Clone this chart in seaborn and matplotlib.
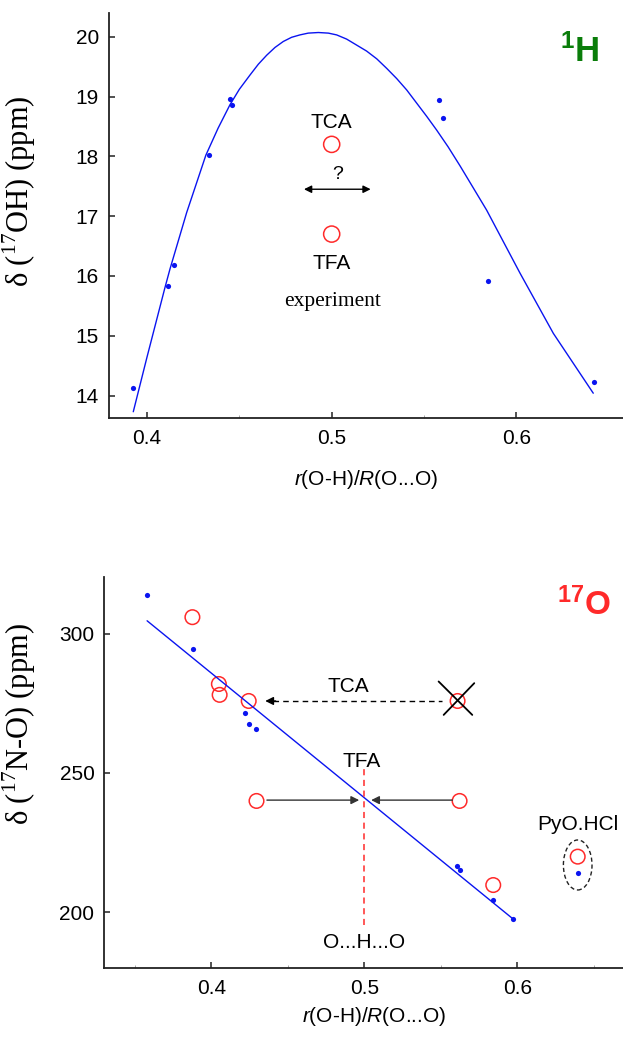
import numpy as np
import pandas as pd
import matplotlib
matplotlib.use("Agg")
import matplotlib.pyplot as plt
from matplotlib.patches import Ellipse
import seaborn as sns

# ---------------- data ----------------
# top panel (1H): calculated points
h_calc_x = [0.3925, 0.4114, 0.4144, 0.4338, 0.4447, 0.4458, 0.5583, 0.5605, 0.5845, 0.6418]
h_calc_y = [14.12, 15.83, 16.18, 18.03, 18.96, 18.86, 18.95, 18.64, 15.91, 14.23]
# top panel fitted curve
h_curve_x = [0.3926, 0.4000, 0.4097, 0.4125, 0.4215, 0.4319, 0.4385, 0.4449, 0.4500,
             0.4558, 0.4603, 0.4648, 0.4693, 0.4738, 0.4783, 0.4828, 0.4873, 0.4928,
             0.4982, 0.5027, 0.5081, 0.5135, 0.5189, 0.5244, 0.5298, 0.5352, 0.5406,
             0.5460, 0.5514, 0.5568, 0.5630, 0.5695, 0.5767, 0.5839, 0.6019, 0.6200,
             0.6416]
h_curve_y = [13.73, 14.64, 15.80, 16.12, 17.06, 18.02, 18.47, 18.86, 19.12,
             19.36, 19.54, 19.69, 19.82, 19.92, 19.99, 20.03, 20.06, 20.07,
             20.06, 20.03, 19.96, 19.86, 19.76, 19.63, 19.47, 19.30, 19.11,
             18.89, 18.67, 18.44, 18.16, 17.84, 17.47, 17.10, 16.05, 15.04,
             14.04]
# top panel experiment
h_exp_x = [0.500, 0.500]
h_exp_y = [18.20, 16.70]
h_exp_labels = ["TCA", "TFA"]

# bottom panel (17O): calculated points (last = PyO.HCl)
o_calc_x = [0.358, 0.3878, 0.422, 0.4246, 0.4293, 0.5604, 0.5622, 0.5842, 0.5972, 0.6394]
o_calc_y = [314.0, 294.4, 271.6, 267.7, 265.7, 216.5, 215.1, 204.3, 197.5, 214.1]
# bottom panel experimental points (open circles)
o_exp_x = [0.3876, 0.4049, 0.4054, 0.4244, 0.5609, 0.4295, 0.5622, 0.5842, 0.6394]
o_exp_y = [305.9, 281.9, 278.0, 275.8, 275.8, 239.9, 239.9, 209.7, 219.9]
# bottom panel linear fit
o_fit_x = [0.358, 0.5972]
o_fit_y = [304.6, 197.5]

# ---------------- style ----------------
sns.set_style("ticks")
plt.rcParams["font.family"] = ["Liberation Sans", "DejaVu Sans"]
plt.rcParams["mathtext.fontset"] = "custom"
plt.rcParams["mathtext.rm"] = "Liberation Serif"
plt.rcParams["mathtext.it"] = "Liberation Sans:italic"
plt.rcParams["mathtext.bf"] = "Liberation Sans:bold"
plt.rcParams["text.color"] = "black"
plt.rcParams["axes.labelcolor"] = "black"
plt.rcParams["xtick.color"] = "black"
plt.rcParams["ytick.color"] = "black"

BLUE = "#0a14f0"
RED = "#ff2a2a"
GREEN = "#0a7d0a"

fig = plt.figure(figsize=(6.23, 10.37), dpi=100)
ax1 = fig.add_axes([0.1742, 0.5966, 0.8258, 0.3905])
ax2 = fig.add_axes([0.1671, 0.06625, 0.8329, 0.3770])


def style_axis(ax):
    for s in ["top", "right"]:
        ax.spines[s].set_visible(False)
    for s in ["left", "bottom"]:
        ax.spines[s].set_linewidth(1.3)
        ax.spines[s].set_color("#222222")
    ax.tick_params(axis="both", which="major", direction="in", length=4, width=1.1,
                   labelsize=15, color="#222222", labelcolor="black")
    ax.tick_params(axis="y", which="major", pad=7)
    ax.tick_params(axis="x", which="major", pad=8)
    ax.tick_params(axis="both", which="minor", direction="in", length=2, width=0.6,
                   color="#999999")


# ---------------- top panel ----------------
sns.lineplot(x=h_curve_x, y=h_curve_y, sort=False, estimator=None, color=BLUE,
             lw=1.0, ax=ax1)
sns.scatterplot(x=h_calc_x, y=h_calc_y, color=BLUE, s=14, linewidth=0, ax=ax1)
sns.scatterplot(x=h_exp_x, y=h_exp_y, marker="o", s=135, ax=ax1)
ax1.collections[-1].set_facecolor("none")
ax1.collections[-1].set_edgecolor(RED)
ax1.collections[-1].set_linewidth(1.1)

ax1.set_xlim(0.3792, 0.6577)
ax1.set_ylim(13.62, 20.39)
ax1.set_xticks([0.4, 0.5, 0.6])
ax1.set_xticklabels(["0.4", "0.5", "0.6"])
ax1.set_xticks([0.45, 0.55], minor=True)
ax1.set_yticks([14, 15, 16, 17, 18, 19, 20])
style_axis(ax1)

ax1.text(0.500, 18.57, h_exp_labels[0], ha="center", va="center", fontsize=15)
ax1.text(0.500, 16.21, h_exp_labels[1], ha="center", va="center", fontsize=15)
ax1.text(0.503, 17.70, "?", ha="center", va="center", fontsize=14)
ax1.annotate("", xy=(0.4850, 17.45), xytext=(0.5211, 17.45),
             arrowprops=dict(arrowstyle="<|-|>", color="black", lw=1.0,
                             mutation_scale=11, shrinkA=0, shrinkB=0))
ax1.text(0.5007, 15.58, "experiment", ha="center", va="center", fontsize=15.5,
         family="Liberation Serif")
ax1.text(0.916, 0.905, r"$^{\mathbf{1}}$H", transform=ax1.transAxes, ha="center",
         va="center", fontsize=25, fontweight="bold", color=GREEN)

ax1.set_xlabel(r"$\mathit{r}$(O-H)/$\mathit{R}$(O...O)", fontsize=15, labelpad=14)
ax1.set_ylabel("δ ($^{\\mathrm{17}}$OH) (ppm)", fontsize=22,
               family="Liberation Serif")
ax1.yaxis.set_label_coords(-0.137, 0.561)

# ---------------- bottom panel ----------------
sns.lineplot(x=o_fit_x, y=o_fit_y, sort=False, estimator=None, color=BLUE,
             lw=1.0, ax=ax2)
sns.scatterplot(x=o_calc_x, y=o_calc_y, color=BLUE, s=14, linewidth=0, ax=ax2)
sns.scatterplot(x=o_exp_x, y=o_exp_y, marker="o", s=110, ax=ax2)
ax2.collections[-1].set_facecolor("none")
ax2.collections[-1].set_edgecolor(RED)
ax2.collections[-1].set_linewidth(1.1)

ax2.set_xlim(0.3299, 0.669)
ax2.set_ylim(179.8, 320.2)
ax2.set_xticks([0.4, 0.5, 0.6])
ax2.set_xticklabels(["0.4", "0.5", "0.6"])
ax2.set_xticks([0.35, 0.45, 0.55, 0.65], minor=True)
ax2.set_yticks([200, 250, 300])
style_axis(ax2)

# TCA dashed arrow and cross
ax2.text(0.4896, 280.9, "TCA", ha="center", va="center", fontsize=15)
ax2.plot([0.4400, 0.551], [275.8, 275.8], ls=(0, (4, 3)), color="black", lw=1.0)
ax2.annotate("", xy=(0.4352, 275.8), xytext=(0.4420, 275.8),
             arrowprops=dict(arrowstyle="-|>", color="black", lw=1.0,
                             mutation_scale=12, shrinkA=0, shrinkB=0))
ax2.plot([0.5485, 0.5705], [282.8, 270.8], color="black", lw=1.3)
ax2.plot([0.5718, 0.5518], [282.2, 270.8], color="black", lw=1.3)

# TFA arrows and dashed line
ax2.text(0.4984, 253.9, "TFA", ha="center", va="center", fontsize=15)
ax2.plot([0.5, 0.5], [195.3, 252.0], ls=(0, (4, 3)), color=RED, lw=1.1)
ax2.annotate("", xy=(0.4966, 240.2), xytext=(0.4363, 240.2),
             arrowprops=dict(arrowstyle="-|>", color="#333333", lw=1.0,
                             mutation_scale=12, shrinkA=0, shrinkB=0))
ax2.annotate("", xy=(0.5044, 240.2), xytext=(0.5575, 240.2),
             arrowprops=dict(arrowstyle="-|>", color="#333333", lw=1.0,
                             mutation_scale=12, shrinkA=0, shrinkB=0))
ax2.text(0.500, 189.1, "O...H...O", ha="center", va="center", fontsize=15)

# PyO.HCl
ax2.text(0.6394, 231.6, "PyO.HCl", ha="center", va="center", fontsize=15)
ax2.add_patch(Ellipse((0.6394, 216.9), 0.0187, 17.96, fill=False, ls=(0, (3, 2)),
                      lw=1.0, ec="#222222"))

ax2.text(0.925, 0.93, r"$^{\mathbf{17}}$O", transform=ax2.transAxes, ha="center",
         va="center", fontsize=24, fontweight="bold", color=RED)

ax2.set_xlabel(r"$\mathit{r}$(O-H)/$\mathit{R}$(O...O)", fontsize=15, labelpad=7)
ax2.xaxis.set_label_coords(0.52, -0.095)
ax2.set_ylabel("δ ($^{\\mathrm{17}}$N-O) (ppm)", fontsize=22,
               family="Liberation Serif")
ax2.yaxis.set_label_coords(-0.128, 0.625)

fig.savefig("out.png", dpi=100)
